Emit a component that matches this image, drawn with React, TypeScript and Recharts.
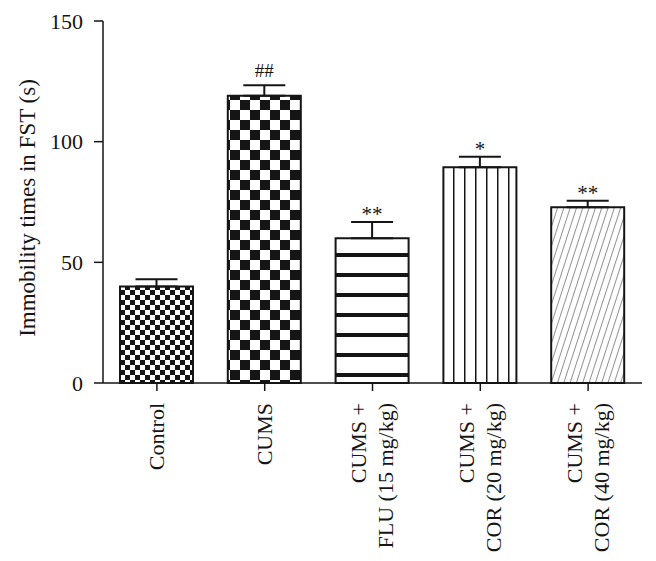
import React from 'react';
import { BarChart, Bar, XAxis, YAxis, Cell, ErrorBar, LabelList } from 'recharts';

const groups = [
  'Control',
  'CUMS',
  'CUMS +\nFLU (15 mg/kg)',
  'CUMS +\nCOR (20 mg/kg)',
  'CUMS +\nCOR (40 mg/kg)',
];
const immobility = [40, 119, 60, 89.4, 72.8];
const sem = [3, 4.4, 6.7, 4.4, 2.7];
const marks = ['', '##', '**', '*', '**'];
const yTicks = [0, 50, 100, 150];

const ink = '#151515';
const serif = '"Liberation Serif", "Times New Roman", serif';

const data = groups.map((name, i) => ({
  name,
  value: immobility[i],
  err: [0, sem[i]],
  mark: marks[i],
}));

function CategoryTick({ x, y, payload }: any) {
  const lines = String(payload.value).split('\n');
  const offsets = lines.length === 1 ? [0] : [-13.5, 13.5];
  return (
    <g transform={`translate(${x},${y})`}>
      <text transform="rotate(-90)" textAnchor="end" fontFamily={serif} fontSize={22} fill={ink}>
        {lines.map((l, i) => (
          <tspan key={i} x={0} y={offsets[i]} dy="0.33em">
            {l}
          </tspan>
        ))}
      </text>
    </g>
  );
}

function MarkLabel(props: any) {
  const { x, y, width, height, value, index } = props;
  if (!value) return null;
  const row = data[index];
  const errPx = (height / row.value) * row.err[1];
  const hash = String(value).includes('#');
  return (
    <text
      x={x + width / 2}
      y={y - errPx - (hash ? 8 : 1)}
      textAnchor="middle"
      fontFamily={serif}
      fontSize={hash ? 19 : 21}
      fill={ink}
    >
      {value}
    </text>
  );
}

function AxisTitle({ viewBox }: any) {
  const cx = 27;
  const cy = viewBox.y + viewBox.height / 2 + 6;
  return (
    <text
      x={cx}
      y={cy}
      transform={`rotate(-90, ${cx}, ${cy})`}
      textAnchor="middle"
      dominantBaseline="central"
      fontFamily={serif}
      fontSize={23}
      fill={ink}
    >
      Immobility times in FST (s)
    </text>
  );
}

export default function App() {
  return (
    <div style={{ position: 'absolute', left: 0, top: 0, background: '#fff' }}>
      <BarChart width={656} height={561} data={data} margin={{ top: 21, right: 14, left: 0, bottom: 0 }}>
        <defs>
          <pattern id="pat0" width="10" height="10" patternUnits="userSpaceOnUse">
            <rect width="10" height="10" fill="#fff" />
            <rect x="0" y="0" width="5" height="5" fill={ink} />
            <rect x="5" y="5" width="5" height="5" fill={ink} />
          </pattern>
          <pattern id="pat1" width="20" height="20" patternUnits="userSpaceOnUse">
            <rect width="20" height="20" fill="#fff" />
            <rect x="0" y="0" width="10" height="10" fill={ink} />
            <rect x="10" y="10" width="10" height="10" fill={ink} />
          </pattern>
          <pattern id="pat2" width="20" height="20" patternUnits="userSpaceOnUse">
            <rect width="20" height="20" fill="#fff" />
            <rect x="0" y="13" width="20" height="4" fill={ink} />
          </pattern>
          <pattern id="pat3" width="11" height="11" patternUnits="userSpaceOnUse">
            <rect width="11" height="11" fill="#fff" />
            <rect x="2" y="0" width="1.5" height="11" fill={ink} />
          </pattern>
          <pattern id="pat4" width="6" height="10" patternUnits="userSpaceOnUse" patternTransform="rotate(18)">
            <rect width="6" height="10" fill="#fff" />
            <rect x="0" y="0" width="0.8" height="10" fill="#777" />
          </pattern>
        </defs>
        <XAxis
          dataKey="name"
          height={178}
          interval={0}
          tick={<CategoryTick />}
          tickSize={8}
          tickMargin={12}
          axisLine={{ stroke: ink, strokeWidth: 1.5 }}
          tickLine={{ stroke: ink, strokeWidth: 1.5 }}
        />
        <YAxis
          width={103}
          domain={[0, 150]}
          ticks={yTicks}
          tickSize={9}
          tickMargin={11}
          tick={{ fill: ink, fontSize: 22, fontFamily: serif }}
          axisLine={{ stroke: ink, strokeWidth: 1.5 }}
          tickLine={{ stroke: ink, strokeWidth: 1.5 }}
          label={{ content: <AxisTitle /> }}
        />
        <Bar dataKey="value" barSize={73} stroke={ink} strokeWidth={2} isAnimationActive={false}>
          {data.map((d, i) => (
            <Cell key={d.name} fill={`url(#pat${i})`} />
          ))}
          <ErrorBar dataKey="err" direction="y" width={21} stroke={ink} strokeWidth={2} />
          <LabelList dataKey="mark" content={<MarkLabel />} />
        </Bar>
      </BarChart>
    </div>
  );
}
